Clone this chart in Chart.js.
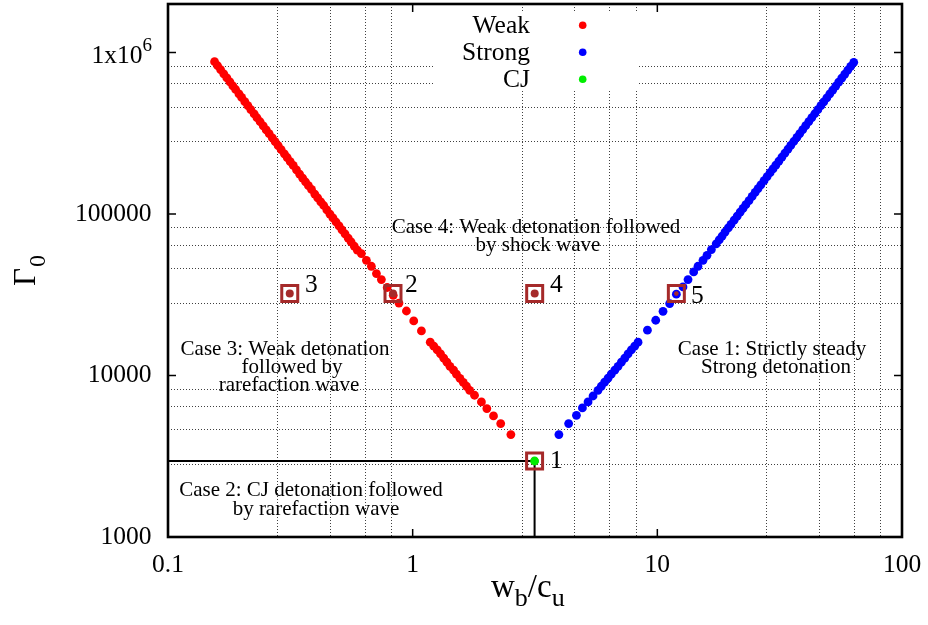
<!DOCTYPE html>
<html>
<head>
<meta charset="utf-8">
<script src="https://cdn.jsdelivr.net/npm/chart.js@4.4.0/dist/chart.umd.min.js"></script>
<style>
  html, body { margin: 0; padding: 0; background: #fff; }
  #wrap { width: 928px; height: 625px; }
</style>
</head>
<body>
<div id="wrap"><canvas id="gammaChart" width="928" height="625"></canvas></div>
<script>
// Weak branch (top-left to bottom-right)
const weakX = [0.155, 0.1595, 0.164, 0.169, 0.174, 0.179, 0.184, 0.189, 0.195, 0.2, 0.206, 0.212,
  0.218, 0.225, 0.231, 0.238, 0.245, 0.252, 0.259, 0.267, 0.274, 0.282, 0.29, 0.299, 0.307, 0.316,
  0.325, 0.335, 0.345, 0.355, 0.365, 0.375, 0.386, 0.398, 0.409, 0.421, 0.433, 0.446, 0.459, 0.472,
  0.486, 0.5, 0.514, 0.529, 0.545, 0.56, 0.577, 0.594,
  0.617, 0.647, 0.678, 0.711, 0.745, 0.787, 0.833, 0.879, 0.943, 1.01, 1.086,
  1.18, 1.22, 1.26, 1.30, 1.34, 1.38, 1.42, 1.47, 1.51, 1.56, 1.61, 1.66, 1.71,
  1.79, 1.91, 2.01, 2.14, 2.29, 2.52];
const weakY = [878000, 829000, 785000, 739000, 697000, 659000, 623000, 591000, 555000, 528000, 497000, 470000,
  444000, 417000, 395000, 373000, 352000, 332000, 315000, 296000, 281000, 265000, 251000, 236000, 224000, 211000,
  200000, 188000, 177000, 167000, 158000, 150000, 142000, 133000, 126000, 119000, 113000, 106000, 100000, 94700,
  89300, 84400, 79900, 75400, 71000, 67300, 63400, 59800,
  56900, 51700, 47500, 42800, 39300, 35100, 31400, 28100, 25100, 21800, 18900,
  16100, 15200, 14400, 13600, 12800, 12100, 11400, 10800, 10200, 9610, 9080, 8580, 8100,
  7550, 6860, 6240, 5620, 5040, 4310];

// Strong branch (bottom to top)
const strongX = [3.96, 4.34, 4.67, 4.94, 5.21, 5.46,
  5.72, 5.90, 6.09, 6.29, 6.48, 6.70, 6.91, 7.13, 7.36, 7.59, 7.83, 8.08, 8.34,
  9.11, 9.85, 10.55, 11.23, 11.96, 12.73, 13.35, 14.08, 14.66, 15.37, 15.96, 16.63,
  17.4, 17.9, 18.4, 18.9, 19.5, 20.0, 20.6, 21.2, 21.8, 22.4, 23.0, 23.7, 24.4, 25.1, 25.8, 26.5,
  27.3, 28.1, 28.9, 29.7, 30.5, 31.4, 32.3, 33.2, 34.2, 35.1, 36.1, 37.2, 38.2, 39.3, 40.4, 41.6,
  42.8, 44.0, 45.3, 46.6, 47.9, 49.3, 50.7, 52.1, 53.6, 55.1, 56.7, 58.3, 60.0, 61.7, 63.5];
const strongY = [4310, 5040, 5670, 6300, 6860, 7470,
  8100, 8580, 9100, 9630, 10200, 10800, 11400, 12100, 12800, 13600, 14400, 15200, 16100,
  19100, 22000, 25000, 27900, 31900, 35400, 39300, 43800, 47500, 51700, 55500, 60300,
  65400, 69200, 73100, 77200, 82100, 86400, 91700, 97100, 102700, 108400, 114300, 121300, 128600, 136100, 143800, 151700,
  161000, 170600, 180400, 190500, 200900, 213000, 225400, 238100, 252600, 266100, 281500, 298900, 315200, 333600, 352500, 373800,
  395700, 418200, 443300, 469100, 495600, 525000, 555200, 586300, 620600, 655800, 694400, 734200, 777600, 822300, 871000];

// CJ point
const cjX = [3.15];
const cjY = [2956];

// marked cases 1..5
const caseX = [3.15, 0.831, 0.3145, 3.153, 11.96];
const caseY = [2956, 32170, 32170, 32170, 32170];
const caseLabels = ['1', '2', '3', '4', '5'];

// axes
const xDecades = [0.1, 1, 10, 100];
const yDecades = [1000, 10000, 100000, 1000000];
const xTickLabels = ['0.1', '1', '10', '100'];
const yTickLabels = ['1000', '10000', '100000', ''];   // 1x10^6 is drawn with a real superscript below
const minorSteps = [2.8, 4.6, 6.4, 8.2];
const yMax = 2000000;

const serif = '"Liberation Serif", "Times New Roman", serif';
const brown = '#a52a2a';

function withMinors(decades, max) {
  const out = [];
  decades.forEach(d => {
    out.push(d);
    minorSteps.forEach(m => { if (d * m <= max) out.push(d * m); });
  });
  return out;
}
function isDecade(v) {
  const l = Math.log10(v);
  return Math.abs(l - Math.round(l)) < 1e-6;
}
function labelFor(v, decades, labels) {
  const i = decades.findIndex(d => Math.abs(d - v) / d < 1e-6);
  return i >= 0 ? labels[i] : '';
}
function noPad(s) { s.paddingTop = 0; s.paddingBottom = 0; s.paddingLeft = 0; s.paddingRight = 0; }
const pts = (xs, ys) => xs.map((x, i) => ({ x: x, y: ys[i] }));

const notes = [
  { lines: ['Case 4: Weak detonation followed', 'by shock wave'], cx: [536, 538], by: [233, 251] },
  { lines: ['Case 3: Weak detonation', 'followed by', 'rarefaction wave'], cx: [285, 292, 289], by: [355, 373, 390.5] },
  { lines: ['Case 2: CJ detonation followed', 'by rarefaction wave'], cx: [311, 316], by: [495.5, 515] },
  { lines: ['Case 1: Strictly steady', 'Strong detonation'], cx: [772, 776], by: [355, 372.5] }
];
const numPos = [[550, 468], [405, 291.5], [305, 291.5], [550, 291.5], [691, 303]];

const decor = {
  id: 'decor',
  beforeDatasetsDraw(chart) {
    const ctx = chart.ctx;
    const ys = chart.scales.y;
    ctx.save();
    // opaque key box
    ctx.fillStyle = '#fff';
    ctx.fillRect(433, 13, 205, 77);
    ctx.font = '25.5px ' + serif;
    ctx.textAlign = 'right';
    ctx.textBaseline = 'alphabetic';
    chart.data.datasets.filter(d => d.keyPos !== undefined)
      .sort((a, b) => a.keyPos - b.keyPos)
      .forEach((d, i) => {
        ctx.fillStyle = '#000';
        ctx.fillText(d.label, 530, 33.3 + i * 27);
        ctx.beginPath();
        ctx.arc(582.7, 25.3 + i * 27, 3.8, 0, Math.PI * 2);
        ctx.fillStyle = d.backgroundColor;
        ctx.fill();
      });
    // 1x10^6 tick label
    const p6 = ys.getPixelForValue(yDecades[3]);
    ctx.fillStyle = '#000';
    ctx.font = '19px ' + serif;
    const w6 = ctx.measureText('6').width;
    ctx.fillText('6', 152, p6 - 2);
    ctx.font = '25.5px ' + serif;
    ctx.fillText('1x10', 152 - w6, p6 + 10);
    // region notes
    ctx.textAlign = 'center';
    ctx.font = '21px ' + serif;
    notes.forEach(n => n.lines.forEach((t, i) => ctx.fillText(t, n.cx[i], n.by[i])));
    ctx.restore();
  },
  afterDatasetsDraw(chart) {
    const ctx = chart.ctx;
    const a = chart.chartArea;
    const xs = chart.scales.x, ys = chart.scales.y;
    ctx.save();
    // case numbers
    ctx.fillStyle = '#000';
    ctx.font = '25.5px ' + serif;
    ctx.textAlign = 'left';
    ctx.textBaseline = 'alphabetic';
    caseLabels.forEach((t, i) => ctx.fillText(t, numPos[i][0], numPos[i][1]));
    // inward major ticks
    ctx.strokeStyle = '#000';
    ctx.lineWidth = 1.5;
    ctx.beginPath();
    xDecades.forEach(d => {
      const p = xs.getPixelForValue(d);
      ctx.moveTo(p, a.bottom); ctx.lineTo(p, a.bottom - 8);
      ctx.moveTo(p, a.top); ctx.lineTo(p, a.top + 8);
    });
    yDecades.forEach(d => {
      const p = ys.getPixelForValue(d);
      ctx.moveTo(a.left, p); ctx.lineTo(a.left + 8, p);
      ctx.moveTo(a.right, p); ctx.lineTo(a.right - 8, p);
    });
    ctx.stroke();
    // frame
    ctx.lineWidth = 2.6;
    ctx.strokeRect(a.left, a.top, a.right - a.left, a.bottom - a.top);
    // y title, rotated
    ctx.translate(35, 286);
    ctx.rotate(-Math.PI / 2);
    ctx.font = '31px ' + serif;
    ctx.fillText('Γ', 0, 0);
    const gw = ctx.measureText('Γ').width;
    ctx.font = '24px ' + serif;
    ctx.fillText('0', gw + 1, 10);
    ctx.setTransform(1, 0, 0, 1, 0, 0);
    // x title
    let x = 491;
    const parts = [['w', 33, 597], ['b', 26, 606], ['/', 33, 597], ['c', 33, 597], ['u', 26, 606]];
    parts.forEach(p => {
      ctx.font = p[1] + 'px ' + serif;
      ctx.fillText(p[0], x, p[2]);
      x += ctx.measureText(p[0]).width;
    });
    ctx.restore();
  }
};

const dot = { pointRadius: 4.4, pointBorderWidth: 0, pointHoverRadius: 4.4, showLine: false };

new Chart(document.getElementById('gammaChart'), {
  type: 'scatter',
  data: {
    datasets: [
      { label: 'Squares', data: pts(caseX, caseY), pointStyle: 'rect', pointRadius: 11.3, pointHoverRadius: 11.3,
        pointBorderWidth: 3, borderColor: brown, backgroundColor: 'rgba(0,0,0,0)', order: 1 },
      { label: 'CJ', keyPos: 2, data: pts(cjX, cjY), backgroundColor: '#00ee00', ...dot, order: 2 },
      { label: 'Case points', data: pts(caseX, caseY), backgroundColor: brown, pointRadius: [4, 4, 4, 4, 2.3],
        pointBorderWidth: 0, order: 3 },
      { label: 'Weak', keyPos: 0, data: pts(weakX, weakY), backgroundColor: '#ff0000', ...dot, order: 5 },
      { label: 'Strong', keyPos: 1, data: pts(strongX, strongY), backgroundColor: '#0000ff', ...dot, order: 4 },
      { label: 'CJ lines', showLine: true, pointRadius: 0, borderColor: '#000', borderWidth: 2,
        data: [{ x: xDecades[0], y: cjY[0] }, { x: cjX[0], y: cjY[0] }, { x: cjX[0], y: yDecades[0] }], order: 6 }
    ]
  },
  options: {
    responsive: false,
    animation: false,
    layout: { autoPadding: false, padding: { top: 4, right: 26, left: 0, bottom: 0 } },
    plugins: { legend: { display: false }, tooltip: { enabled: false } },
    scales: {
      x: {
        type: 'logarithmic', min: xDecades[0], max: xDecades[xDecades.length - 1],
        afterBuildTicks: s => { s.ticks = withMinors(xDecades, xDecades[xDecades.length - 1]).map(v => ({ value: v })); },
        afterFit: s => { s.height = 88; noPad(s); },
        ticks: { autoSkip: false, maxRotation: 0, padding: 13, color: '#000',
          font: { family: serif, size: 25.5 },
          callback: v => labelFor(v, xDecades, xTickLabels) },
        grid: { drawTicks: false, lineWidth: 1, color: c => isDecade(c.tick.value) ? 'rgba(0,0,0,0)' : '#404040' },
        border: { display: false, dash: [1, 2] }
      },
      y: {
        type: 'logarithmic', min: yDecades[0], max: yMax,
        afterBuildTicks: s => { s.ticks = withMinors(yDecades, yMax).map(v => ({ value: v })); },
        afterFit: s => { s.width = 168; noPad(s); },
        ticks: { autoSkip: false, padding: 16.5, color: '#000',
          font: { family: serif, size: 25.5 },
          callback: v => labelFor(v, yDecades, yTickLabels) },
        grid: { drawTicks: false, lineWidth: 1, color: c => isDecade(c.tick.value) ? 'rgba(0,0,0,0)' : '#404040' },
        border: { display: false, dash: [1, 2] }
      }
    }
  },
  plugins: [decor]
});
</script>
</body>
</html>
